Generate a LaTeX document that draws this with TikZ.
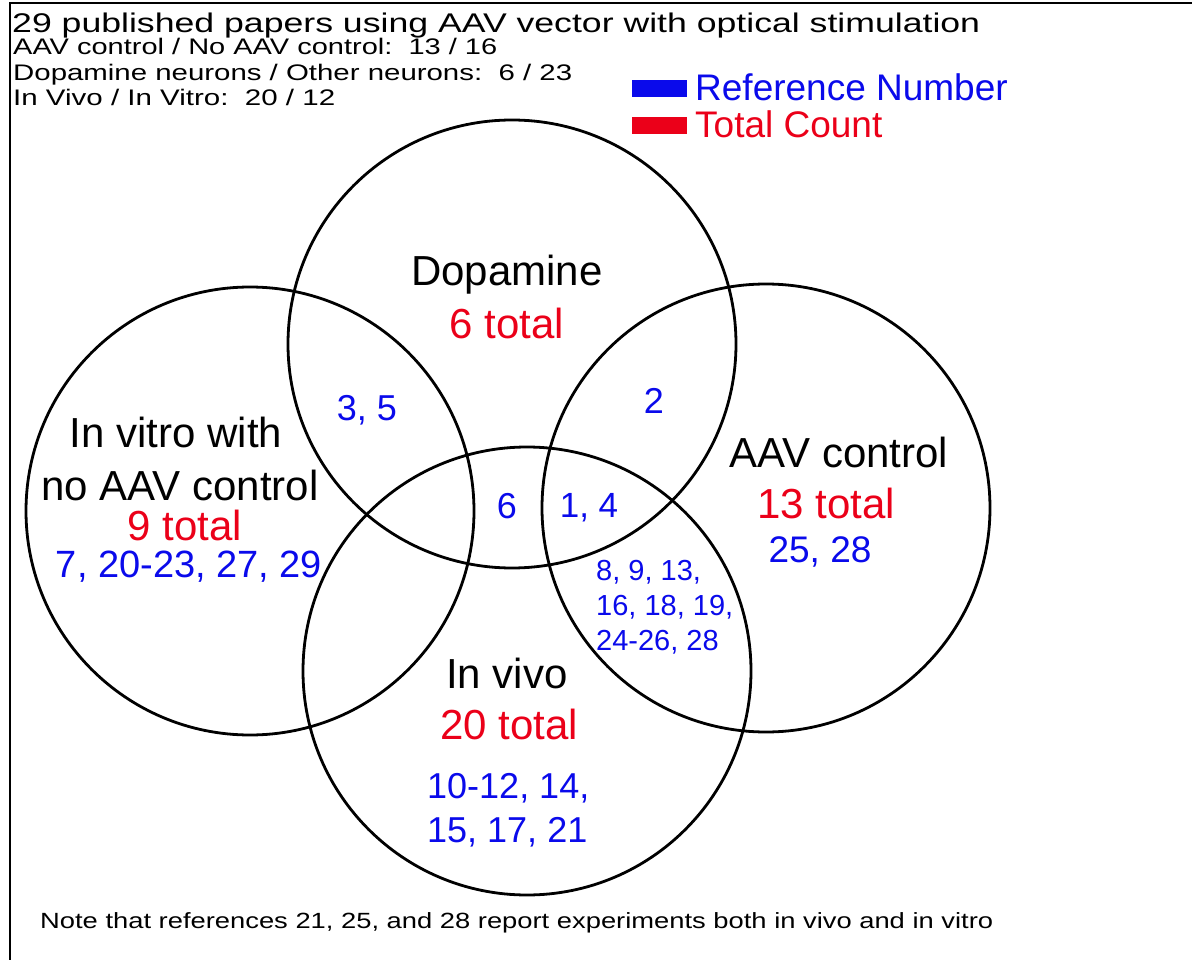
\documentclass[tikz,border=0pt]{standalone}
\usepackage{fontspec}
\setmainfont{Liberation Sans}
\definecolor{refblue}{RGB}{10,10,235}
\definecolor{totred}{RGB}{235,0,25}
\begin{document}
\begin{tikzpicture}[x=1pt,y=-1pt,
  set/.style={circle,draw=black,line width=2.8pt,minimum size=448pt,inner sep=0pt},
  big/.style={font=\fontsize{42}{50}\selectfont,anchor=base,inner sep=0pt},
  tot/.style={big,text=totred},
  refs/.style={font=\fontsize{36}{42}\selectfont,anchor=base,inner sep=0pt,text=refblue},
  small/.style={font=\fontsize{29}{34}\selectfont,anchor=base west,inner sep=0pt,text=refblue},
  head/.style={font=\fontsize{22.5}{26}\selectfont,anchor=base west,inner sep=0pt},
  legtext/.style={font=\fontsize{37}{42}\selectfont,anchor=base west,inner sep=0pt}]
\useasboundingbox (0,0) rectangle (1192,960);
\fill[white] (0,0) rectangle (1192,960);
% frame
\coordinate (fr1) at (1192,3);
\coordinate (fr2) at (10,3);
\coordinate (fr3) at (10,960);
\draw[line width=2.6pt] (fr1) -- (fr2) -- (fr3);
% circles
\node[set] (dop) at (512,344) {};
\node[set] (vitro) at (250,511) {};
\node[set] (aav) at (766,508) {};
\node[set] (vivo) at (527,671) {};
% header
\node[font=\fontsize{27}{32}\selectfont,anchor=base west,inner sep=0pt] (title) at (12,33)
  {\resizebox{968pt}{\height}{29 published papers using AAV vector with optical stimulation}};
\node[head] (h1) at (13,55) {\resizebox{484pt}{\height}{AAV control / No AAV control:\ \ 13 / 16}};
\node[head] (h2) at (13,81) {\resizebox{559pt}{\height}{Dopamine neurons / Other neurons:\ \ 6 / 23}};
\node[head] (h3) at (13,106) {\resizebox{322pt}{\height}{In Vivo / In Vitro:\ \ 20 / 12}};
% legend
\node[fill=refblue,minimum width=55pt,minimum height=17pt,inner sep=0pt,anchor=north west] (lb) at (632,80) {};
\node[fill=totred,minimum width=55pt,minimum height=17pt,inner sep=0pt,anchor=north west] (lr) at (632,117) {};
\node[legtext,text=refblue] (lbt) at (695,101) {Reference Number};
\node[legtext,text=totred] (lrt) at (695,138) {Total Count};
% Dopamine
\node[big] (dopl) at (507,286) {Dopamine};
\node[tot] (dopt) at (507,338) {6 total};
\node[refs] (r35) at (367,420) {3, 5};
\node[refs] (r2) at (654,413) {2};
% In vitro
\node[big] (vitl1) at (176,447) {In vitro with};
\node[big] (vitl2) at (180,500) {no AAV control};
\node[tot] (vitt) at (185,540) {9 total};
\node[refs,font=\fontsize{38}{44}\selectfont] (vitr) at (189,577) {7, 20-23, 27, 29};
% AAV control
\node[big] (aavl) at (839,467) {AAV control};
\node[tot] (aavt) at (826,518) {13 total};
\node[refs,font=\fontsize{37}{44}\selectfont] (aavr) at (820,562) {25, 28};
% centre
\node[refs] (r6) at (507,518) {6};
\node[refs,font=\fontsize{35}{42}\selectfont] (r14) at (589,517) {1, 4};
\node[small] (ra1) at (596,580) {8, 9, 13,};
\node[small] (ra2) at (596,615) {16, 18, 19,};
\node[small] (ra3) at (596,650) {24-26, 28};
% In vivo
\node[big] (vivl) at (507,688) {In vivo};
\node[tot] (vivt) at (509,739) {20 total};
\node[refs,anchor=base west] (viv1) at (427,798) {10-12, 14,};
\node[refs,anchor=base west] (viv2) at (427,842) {15, 17, 21};
% note
\node[font=\fontsize{22}{26}\selectfont,anchor=base west,inner sep=0pt] (note) at (40,928)
  {\resizebox{953pt}{\height}{Note that references 21, 25, and 28 report experiments both in vivo and in vitro}};
\end{tikzpicture}
\end{document}
